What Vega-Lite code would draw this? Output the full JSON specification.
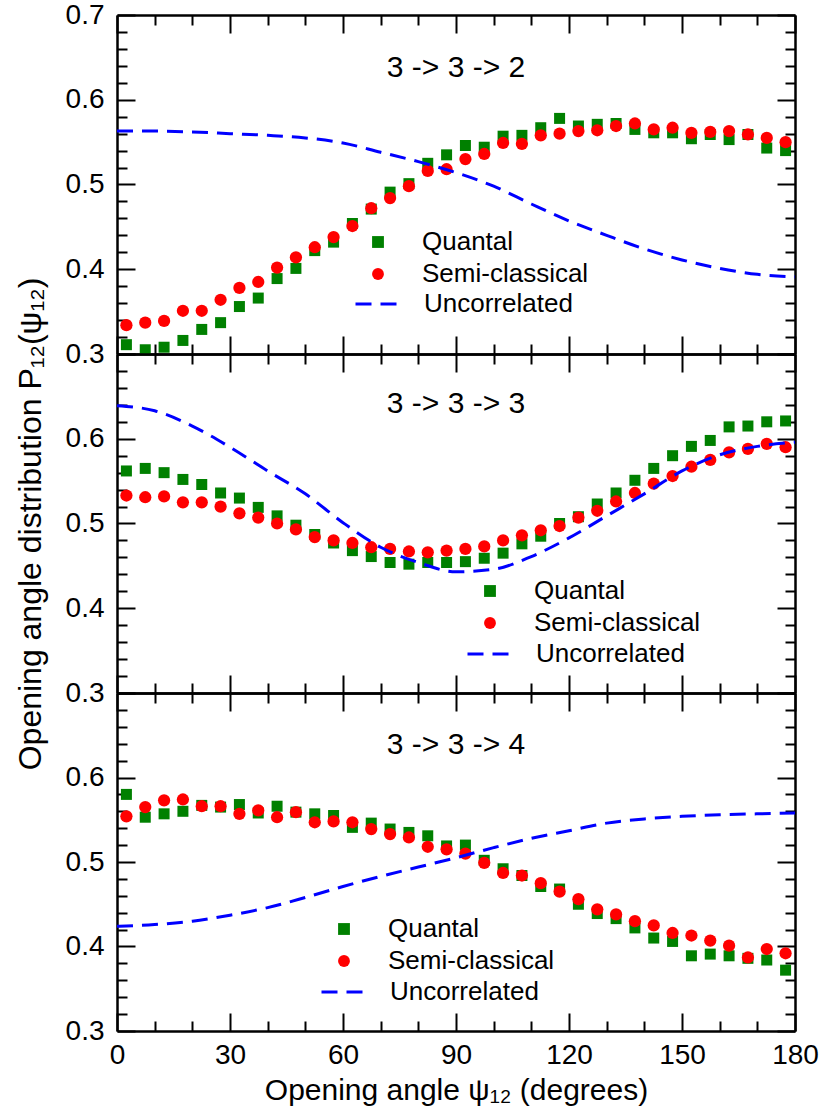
{
  "$schema": "https://vega.github.io/schema/vega-lite/v6.json",
  "padding": {"left": 14, "top": 1, "right": 20, "bottom": 5},
  "spacing": 0,
  "bounds": "flush",
  "config": {
    "font": "Liberation Sans",
    "view": {"stroke": null},
    "axis": {"grid": false, "domainColor": "black", "domainWidth": 2.5, "tickColor": "black", "tickWidth": 2, "labelFont": "Liberation Sans", "labelFontSize": 28, "labelColor": "black", "titleFont": "Liberation Sans", "titleFontSize": 30, "titleFontWeight": "normal", "titleColor": "black", "labelFlush": false, "labelOverlap": false},
    "legend": {"labelFont": "Liberation Sans", "labelFontSize": 26, "labelColor": "black", "padding": 0, "labelLimit": 400},
    "title": {"font": "Liberation Sans", "fontSize": 30, "fontWeight": "normal", "color": "black", "anchor": "middle", "frame": "group"}
  },
  "datasets": {
    "pts": [
      {"panel": "332", "angle": 2.5, "Quantal": 0.311, "Semi-classical": 0.334},
      {"panel": "332", "angle": 7.5, "Quantal": 0.305, "Semi-classical": 0.337},
      {"panel": "332", "angle": 12.5, "Quantal": 0.308, "Semi-classical": 0.339},
      {"panel": "332", "angle": 17.5, "Quantal": 0.316, "Semi-classical": 0.351},
      {"panel": "332", "angle": 22.5, "Quantal": 0.329, "Semi-classical": 0.351},
      {"panel": "332", "angle": 27.5, "Quantal": 0.337, "Semi-classical": 0.364},
      {"panel": "332", "angle": 32.5, "Quantal": 0.356, "Semi-classical": 0.378},
      {"panel": "332", "angle": 37.5, "Quantal": 0.366, "Semi-classical": 0.385},
      {"panel": "332", "angle": 42.5, "Quantal": 0.389, "Semi-classical": 0.402},
      {"panel": "332", "angle": 47.5, "Quantal": 0.401, "Semi-classical": 0.414},
      {"panel": "332", "angle": 52.5, "Quantal": 0.422, "Semi-classical": 0.426},
      {"panel": "332", "angle": 57.5, "Quantal": 0.432, "Semi-classical": 0.438},
      {"panel": "332", "angle": 62.5, "Quantal": 0.454, "Semi-classical": 0.451},
      {"panel": "332", "angle": 67.5, "Quantal": 0.471, "Semi-classical": 0.472},
      {"panel": "332", "angle": 72.5, "Quantal": 0.491, "Semi-classical": 0.484},
      {"panel": "332", "angle": 77.5, "Quantal": 0.501, "Semi-classical": 0.498},
      {"panel": "332", "angle": 82.5, "Quantal": 0.525, "Semi-classical": 0.516},
      {"panel": "332", "angle": 87.5, "Quantal": 0.535, "Semi-classical": 0.518},
      {"panel": "332", "angle": 92.5, "Quantal": 0.546, "Semi-classical": 0.530},
      {"panel": "332", "angle": 97.5, "Quantal": 0.544, "Semi-classical": 0.536},
      {"panel": "332", "angle": 102.5, "Quantal": 0.557, "Semi-classical": 0.549},
      {"panel": "332", "angle": 107.5, "Quantal": 0.558, "Semi-classical": 0.548},
      {"panel": "332", "angle": 112.5, "Quantal": 0.567, "Semi-classical": 0.558},
      {"panel": "332", "angle": 117.5, "Quantal": 0.578, "Semi-classical": 0.560},
      {"panel": "332", "angle": 122.5, "Quantal": 0.569, "Semi-classical": 0.563},
      {"panel": "332", "angle": 127.5, "Quantal": 0.571, "Semi-classical": 0.564},
      {"panel": "332", "angle": 132.5, "Quantal": 0.572, "Semi-classical": 0.569},
      {"panel": "332", "angle": 137.5, "Quantal": 0.565, "Semi-classical": 0.572},
      {"panel": "332", "angle": 142.5, "Quantal": 0.561, "Semi-classical": 0.565},
      {"panel": "332", "angle": 147.5, "Quantal": 0.561, "Semi-classical": 0.567},
      {"panel": "332", "angle": 152.5, "Quantal": 0.554, "Semi-classical": 0.561},
      {"panel": "332", "angle": 157.5, "Quantal": 0.559, "Semi-classical": 0.562},
      {"panel": "332", "angle": 162.5, "Quantal": 0.553, "Semi-classical": 0.563},
      {"panel": "332", "angle": 167.5, "Quantal": 0.559, "Semi-classical": 0.559},
      {"panel": "332", "angle": 172.5, "Quantal": 0.543, "Semi-classical": 0.555},
      {"panel": "332", "angle": 177.5, "Quantal": 0.540, "Semi-classical": 0.550},
      {"panel": "333", "angle": 2.5, "Quantal": 0.562, "Semi-classical": 0.533},
      {"panel": "333", "angle": 7.5, "Quantal": 0.565, "Semi-classical": 0.531},
      {"panel": "333", "angle": 12.5, "Quantal": 0.560, "Semi-classical": 0.532},
      {"panel": "333", "angle": 17.5, "Quantal": 0.552, "Semi-classical": 0.525},
      {"panel": "333", "angle": 22.5, "Quantal": 0.546, "Semi-classical": 0.525},
      {"panel": "333", "angle": 27.5, "Quantal": 0.536, "Semi-classical": 0.520},
      {"panel": "333", "angle": 32.5, "Quantal": 0.530, "Semi-classical": 0.512},
      {"panel": "333", "angle": 37.5, "Quantal": 0.519, "Semi-classical": 0.507},
      {"panel": "333", "angle": 42.5, "Quantal": 0.509, "Semi-classical": 0.500},
      {"panel": "333", "angle": 47.5, "Quantal": 0.498, "Semi-classical": 0.493},
      {"panel": "333", "angle": 52.5, "Quantal": 0.487, "Semi-classical": 0.484},
      {"panel": "333", "angle": 57.5, "Quantal": 0.477, "Semi-classical": 0.480},
      {"panel": "333", "angle": 62.5, "Quantal": 0.468, "Semi-classical": 0.477},
      {"panel": "333", "angle": 67.5, "Quantal": 0.461, "Semi-classical": 0.472},
      {"panel": "333", "angle": 72.5, "Quantal": 0.454, "Semi-classical": 0.470},
      {"panel": "333", "angle": 77.5, "Quantal": 0.452, "Semi-classical": 0.467},
      {"panel": "333", "angle": 82.5, "Quantal": 0.454, "Semi-classical": 0.466},
      {"panel": "333", "angle": 87.5, "Quantal": 0.454, "Semi-classical": 0.468},
      {"panel": "333", "angle": 92.5, "Quantal": 0.455, "Semi-classical": 0.470},
      {"panel": "333", "angle": 97.5, "Quantal": 0.459, "Semi-classical": 0.473},
      {"panel": "333", "angle": 102.5, "Quantal": 0.465, "Semi-classical": 0.480},
      {"panel": "333", "angle": 107.5, "Quantal": 0.476, "Semi-classical": 0.486},
      {"panel": "333", "angle": 112.5, "Quantal": 0.485, "Semi-classical": 0.492},
      {"panel": "333", "angle": 117.5, "Quantal": 0.500, "Semi-classical": 0.497},
      {"panel": "333", "angle": 122.5, "Quantal": 0.508, "Semi-classical": 0.507},
      {"panel": "333", "angle": 127.5, "Quantal": 0.523, "Semi-classical": 0.515},
      {"panel": "333", "angle": 132.5, "Quantal": 0.536, "Semi-classical": 0.526},
      {"panel": "333", "angle": 137.5, "Quantal": 0.551, "Semi-classical": 0.536},
      {"panel": "333", "angle": 142.5, "Quantal": 0.565, "Semi-classical": 0.547},
      {"panel": "333", "angle": 147.5, "Quantal": 0.580, "Semi-classical": 0.556},
      {"panel": "333", "angle": 152.5, "Quantal": 0.591, "Semi-classical": 0.567},
      {"panel": "333", "angle": 157.5, "Quantal": 0.598, "Semi-classical": 0.575},
      {"panel": "333", "angle": 162.5, "Quantal": 0.614, "Semi-classical": 0.584},
      {"panel": "333", "angle": 167.5, "Quantal": 0.615, "Semi-classical": 0.588},
      {"panel": "333", "angle": 172.5, "Quantal": 0.620, "Semi-classical": 0.594},
      {"panel": "333", "angle": 177.5, "Quantal": 0.621, "Semi-classical": 0.590},
      {"panel": "334", "angle": 2.5, "Quantal": 0.580, "Semi-classical": 0.554},
      {"panel": "334", "angle": 7.5, "Quantal": 0.553, "Semi-classical": 0.565},
      {"panel": "334", "angle": 12.5, "Quantal": 0.557, "Semi-classical": 0.573},
      {"panel": "334", "angle": 17.5, "Quantal": 0.560, "Semi-classical": 0.574},
      {"panel": "334", "angle": 22.5, "Quantal": 0.567, "Semi-classical": 0.566},
      {"panel": "334", "angle": 27.5, "Quantal": 0.565, "Semi-classical": 0.566},
      {"panel": "334", "angle": 32.5, "Quantal": 0.568, "Semi-classical": 0.557},
      {"panel": "334", "angle": 37.5, "Quantal": 0.558, "Semi-classical": 0.561},
      {"panel": "334", "angle": 42.5, "Quantal": 0.566, "Semi-classical": 0.553},
      {"panel": "334", "angle": 47.5, "Quantal": 0.559, "Semi-classical": 0.559},
      {"panel": "334", "angle": 52.5, "Quantal": 0.557, "Semi-classical": 0.547},
      {"panel": "334", "angle": 57.5, "Quantal": 0.555, "Semi-classical": 0.548},
      {"panel": "334", "angle": 62.5, "Quantal": 0.541, "Semi-classical": 0.547},
      {"panel": "334", "angle": 67.5, "Quantal": 0.546, "Semi-classical": 0.539},
      {"panel": "334", "angle": 72.5, "Quantal": 0.539, "Semi-classical": 0.533},
      {"panel": "334", "angle": 77.5, "Quantal": 0.535, "Semi-classical": 0.529},
      {"panel": "334", "angle": 82.5, "Quantal": 0.531, "Semi-classical": 0.518},
      {"panel": "334", "angle": 87.5, "Quantal": 0.519, "Semi-classical": 0.515},
      {"panel": "334", "angle": 92.5, "Quantal": 0.520, "Semi-classical": 0.510},
      {"panel": "334", "angle": 97.5, "Quantal": 0.502, "Semi-classical": 0.499},
      {"panel": "334", "angle": 102.5, "Quantal": 0.492, "Semi-classical": 0.487},
      {"panel": "334", "angle": 107.5, "Quantal": 0.484, "Semi-classical": 0.484},
      {"panel": "334", "angle": 112.5, "Quantal": 0.471, "Semi-classical": 0.475},
      {"panel": "334", "angle": 117.5, "Quantal": 0.468, "Semi-classical": 0.465},
      {"panel": "334", "angle": 122.5, "Quantal": 0.450, "Semi-classical": 0.456},
      {"panel": "334", "angle": 127.5, "Quantal": 0.439, "Semi-classical": 0.444},
      {"panel": "334", "angle": 132.5, "Quantal": 0.433, "Semi-classical": 0.438},
      {"panel": "334", "angle": 137.5, "Quantal": 0.422, "Semi-classical": 0.430},
      {"panel": "334", "angle": 142.5, "Quantal": 0.410, "Semi-classical": 0.425},
      {"panel": "334", "angle": 147.5, "Quantal": 0.406, "Semi-classical": 0.416},
      {"panel": "334", "angle": 152.5, "Quantal": 0.389, "Semi-classical": 0.413},
      {"panel": "334", "angle": 157.5, "Quantal": 0.391, "Semi-classical": 0.407},
      {"panel": "334", "angle": 162.5, "Quantal": 0.389, "Semi-classical": 0.401},
      {"panel": "334", "angle": 167.5, "Quantal": 0.386, "Semi-classical": 0.387},
      {"panel": "334", "angle": 172.5, "Quantal": 0.384, "Semi-classical": 0.397},
      {"panel": "334", "angle": 177.5, "Quantal": 0.372, "Semi-classical": 0.392}
    ],
    "unc": [
      {"panel": "332", "angle": 0, "Uncorrelated": 0.563},
      {"panel": "332", "angle": 10, "Uncorrelated": 0.563},
      {"panel": "332", "angle": 20, "Uncorrelated": 0.562},
      {"panel": "332", "angle": 30, "Uncorrelated": 0.560},
      {"panel": "332", "angle": 40, "Uncorrelated": 0.558},
      {"panel": "332", "angle": 50, "Uncorrelated": 0.555},
      {"panel": "332", "angle": 60, "Uncorrelated": 0.549},
      {"panel": "332", "angle": 70, "Uncorrelated": 0.538},
      {"panel": "332", "angle": 80, "Uncorrelated": 0.527},
      {"panel": "332", "angle": 90, "Uncorrelated": 0.514},
      {"panel": "332", "angle": 100, "Uncorrelated": 0.498},
      {"panel": "332", "angle": 110, "Uncorrelated": 0.477},
      {"panel": "332", "angle": 120, "Uncorrelated": 0.457},
      {"panel": "332", "angle": 130, "Uncorrelated": 0.440},
      {"panel": "332", "angle": 140, "Uncorrelated": 0.424},
      {"panel": "332", "angle": 150, "Uncorrelated": 0.411},
      {"panel": "332", "angle": 160, "Uncorrelated": 0.401},
      {"panel": "332", "angle": 170, "Uncorrelated": 0.394},
      {"panel": "332", "angle": 180, "Uncorrelated": 0.391},
      {"panel": "333", "angle": 0, "Uncorrelated": 0.639},
      {"panel": "333", "angle": 10, "Uncorrelated": 0.633},
      {"panel": "333", "angle": 20, "Uncorrelated": 0.615},
      {"panel": "333", "angle": 30, "Uncorrelated": 0.590},
      {"panel": "333", "angle": 40, "Uncorrelated": 0.562},
      {"panel": "333", "angle": 50, "Uncorrelated": 0.535},
      {"panel": "333", "angle": 60, "Uncorrelated": 0.501},
      {"panel": "333", "angle": 70, "Uncorrelated": 0.472},
      {"panel": "333", "angle": 80, "Uncorrelated": 0.454},
      {"panel": "333", "angle": 90, "Uncorrelated": 0.443},
      {"panel": "333", "angle": 100, "Uncorrelated": 0.446},
      {"panel": "333", "angle": 110, "Uncorrelated": 0.461},
      {"panel": "333", "angle": 120, "Uncorrelated": 0.483},
      {"panel": "333", "angle": 130, "Uncorrelated": 0.509},
      {"panel": "333", "angle": 140, "Uncorrelated": 0.535},
      {"panel": "333", "angle": 150, "Uncorrelated": 0.562},
      {"panel": "333", "angle": 160, "Uncorrelated": 0.581},
      {"panel": "333", "angle": 170, "Uncorrelated": 0.591},
      {"panel": "333", "angle": 180, "Uncorrelated": 0.596},
      {"panel": "334", "angle": 0, "Uncorrelated": 0.424},
      {"panel": "334", "angle": 10, "Uncorrelated": 0.426},
      {"panel": "334", "angle": 20, "Uncorrelated": 0.430},
      {"panel": "334", "angle": 30, "Uncorrelated": 0.437},
      {"panel": "334", "angle": 40, "Uncorrelated": 0.446},
      {"panel": "334", "angle": 50, "Uncorrelated": 0.458},
      {"panel": "334", "angle": 60, "Uncorrelated": 0.471},
      {"panel": "334", "angle": 70, "Uncorrelated": 0.483},
      {"panel": "334", "angle": 80, "Uncorrelated": 0.494},
      {"panel": "334", "angle": 90, "Uncorrelated": 0.505},
      {"panel": "334", "angle": 100, "Uncorrelated": 0.517},
      {"panel": "334", "angle": 110, "Uncorrelated": 0.528},
      {"panel": "334", "angle": 120, "Uncorrelated": 0.537},
      {"panel": "334", "angle": 130, "Uncorrelated": 0.546},
      {"panel": "334", "angle": 140, "Uncorrelated": 0.551},
      {"panel": "334", "angle": 150, "Uncorrelated": 0.554},
      {"panel": "334", "angle": 160, "Uncorrelated": 0.556},
      {"panel": "334", "angle": 170, "Uncorrelated": 0.557},
      {"panel": "334", "angle": 180, "Uncorrelated": 0.558}
    ]
  },
  "vconcat": [
    {
      "width": 678, "height": 339,
      "title": {"text": "3 -> 3 -> 2", "offset": -82},
      "layer": [
        {
          "data": {"name": "pts"},
          "transform": [{"filter": "datum.panel === '332'"}, {"fold": ["Quantal", "Semi-classical"], "as": ["series", "p"]}, {"filter": "datum.series === 'Quantal'"}],
          "mark": {"type": "point", "filled": true, "opacity": 1, "size": 121},
          "encoding": {
            "x": {"field": "angle", "type": "quantitative", "scale": {"domain": [0, 180], "nice": false, "zero": false},
              "axis": {"orient": "bottom", "values": [0,10,20,30,40,50,60,70,80,90,100,110,120,130,140,150,160,170,180], "tickSize": {"condition": {"test": "datum.value % 30 === 0", "value": -18}, "value": -10}, "labels": false, "title": null}},
            "y": {"field": "p", "type": "quantitative", "scale": {"domain": [0.3, 0.7], "nice": false, "zero": false},
              "axis": {"orient": "left", "values": [0.3,0.32,0.34,0.36,0.38,0.4,0.42,0.44,0.46,0.48,0.5,0.52,0.54,0.56,0.58,0.6,0.62,0.64,0.66,0.68,0.7], "tickSize": {"condition": {"test": "abs(datum.value*10 - round(datum.value*10)) < 0.001", "value": -18}, "value": -10}, "labelExpr": "abs(datum.value*10 - round(datum.value*10)) < 0.001 ? format(datum.value, '.1f') : ''", "labelPadding": 31, "title": null}},
            "color": {"field": "series", "type": "nominal", "scale": {"domain": ["Quantal", "Semi-classical"], "range": ["#008000", "#ff0000"]},
              "legend": {"orient": "none", "legendX": 248, "legendY": 214, "title": null, "symbolSize": 140, "symbolStrokeWidth": 0, "labelOffset": 31, "rowPadding": 6}},
            "shape": {"field": "series", "type": "nominal", "scale": {"domain": ["Quantal", "Semi-classical"], "range": ["square", "circle"]},
              "legend": {"orient": "none", "legendX": 248, "legendY": 214, "title": null, "symbolSize": 140, "symbolStrokeWidth": 0, "labelOffset": 31, "rowPadding": 6}}
          }
        },
        {
          "data": {"name": "pts"},
          "transform": [{"filter": "datum.panel === '332'"}, {"fold": ["Quantal", "Semi-classical"], "as": ["series", "p"]}, {"filter": "datum.series === 'Semi-classical'"}],
          "mark": {"type": "point", "filled": true, "opacity": 1, "size": 150},
          "encoding": {
            "x": {"field": "angle", "type": "quantitative",
              "axis": {"orient": "top", "values": [0,10,20,30,40,50,60,70,80,90,100,110,120,130,140,150,160,170,180], "tickSize": {"condition": {"test": "datum.value % 30 === 0", "value": -18}, "value": -10}, "labels": false, "title": null}},
            "y": {"field": "p", "type": "quantitative",
              "axis": {"orient": "right", "values": [0.3,0.32,0.34,0.36,0.38,0.4,0.42,0.44,0.46,0.48,0.5,0.52,0.54,0.56,0.58,0.6,0.62,0.64,0.66,0.68,0.7], "tickSize": {"condition": {"test": "abs(datum.value*10 - round(datum.value*10)) < 0.001", "value": -18}, "value": -10}, "labels": false, "title": null}},
            "color": {"field": "series", "type": "nominal"},
            "shape": {"field": "series", "type": "nominal"}
          }
        },
        {
          "data": {"name": "unc"},
          "transform": [{"filter": "datum.panel === '332'"}, {"fold": ["Uncorrelated"], "as": ["series", "p"]}],
          "mark": {"type": "line", "color": "#0000ff", "strokeWidth": 3, "interpolate": "monotone"},
          "encoding": {
            "x": {"field": "angle", "type": "quantitative", "axis": null},
            "y": {"field": "p", "type": "quantitative", "axis": null},
            "strokeDash": {"field": "series", "type": "nominal", "scale": {"domain": ["Uncorrelated"], "range": [[16, 9]]},
              "legend": {"orient": "none", "legendX": 237, "legendY": 267, "title": null, "symbolType": "stroke", "symbolStrokeColor": "#0000ff", "symbolStrokeWidth": 3, "symbolSize": 1681, "labelOffset": 26}}
          }
        }
      ],
      "resolve": {"axis": {"x": "independent", "y": "independent"}}
    },
    {
      "width": 678, "height": 339,
      "title": {"text": "3 -> 3 -> 3", "offset": -142},
      "layer": [
        {
          "data": {"name": "pts"},
          "transform": [{"filter": "datum.panel === '333'"}, {"fold": ["Quantal", "Semi-classical"], "as": ["series", "p"]}, {"filter": "datum.series === 'Quantal'"}],
          "mark": {"type": "point", "filled": true, "opacity": 1, "size": 121},
          "encoding": {
            "x": {"field": "angle", "type": "quantitative", "scale": {"domain": [0, 180], "nice": false, "zero": false},
              "axis": {"orient": "bottom", "values": [0,10,20,30,40,50,60,70,80,90,100,110,120,130,140,150,160,170,180], "tickSize": {"condition": {"test": "datum.value % 30 === 0", "value": -18}, "value": -10}, "labels": false, "title": null}},
            "y": {"field": "p", "type": "quantitative", "scale": {"domain": [0.3, 0.7], "nice": false, "zero": false},
              "axis": {"orient": "left", "values": [0.3,0.32,0.34,0.36,0.38,0.4,0.42,0.44,0.46,0.48,0.5,0.52,0.54,0.56,0.58,0.6,0.62,0.64,0.66,0.68,0.7], "tickSize": {"condition": {"test": "abs(datum.value*10 - round(datum.value*10)) < 0.001", "value": -18}, "value": -10}, "labelExpr": "abs(datum.value*10 - round(datum.value*10)) < 0.001 && datum.value < 0.65 ? format(datum.value, '.1f') : ''", "labelPadding": 31, "title": "Opening angle distribution P₁₂(ψ₁₂)", "titleFontSize": 32, "titlePadding": 18}},
            "color": {"field": "series", "type": "nominal", "scale": {"domain": ["Quantal", "Semi-classical"], "range": ["#008000", "#ff0000"]},
              "legend": {"orient": "none", "legendX": 360, "legendY": 224, "title": null, "symbolSize": 140, "symbolStrokeWidth": 0, "labelOffset": 31, "rowPadding": 6}},
            "shape": {"field": "series", "type": "nominal", "scale": {"domain": ["Quantal", "Semi-classical"], "range": ["square", "circle"]},
              "legend": {"orient": "none", "legendX": 360, "legendY": 224, "title": null, "symbolSize": 140, "symbolStrokeWidth": 0, "labelOffset": 31, "rowPadding": 6}}
          }
        },
        {
          "data": {"name": "pts"},
          "transform": [{"filter": "datum.panel === '333'"}, {"fold": ["Quantal", "Semi-classical"], "as": ["series", "p"]}, {"filter": "datum.series === 'Semi-classical'"}],
          "mark": {"type": "point", "filled": true, "opacity": 1, "size": 150},
          "encoding": {
            "x": {"field": "angle", "type": "quantitative",
              "axis": {"orient": "top", "values": [0,10,20,30,40,50,60,70,80,90,100,110,120,130,140,150,160,170,180], "tickSize": {"condition": {"test": "datum.value % 30 === 0", "value": -18}, "value": -10}, "labels": false, "title": null}},
            "y": {"field": "p", "type": "quantitative",
              "axis": {"orient": "right", "values": [0.3,0.32,0.34,0.36,0.38,0.4,0.42,0.44,0.46,0.48,0.5,0.52,0.54,0.56,0.58,0.6,0.62,0.64,0.66,0.68,0.7], "tickSize": {"condition": {"test": "abs(datum.value*10 - round(datum.value*10)) < 0.001", "value": -18}, "value": -10}, "labels": false, "title": null}},
            "color": {"field": "series", "type": "nominal"},
            "shape": {"field": "series", "type": "nominal"}
          }
        },
        {
          "data": {"name": "unc"},
          "transform": [{"filter": "datum.panel === '333'"}, {"fold": ["Uncorrelated"], "as": ["series", "p"]}],
          "mark": {"type": "line", "color": "#0000ff", "strokeWidth": 3, "interpolate": "monotone"},
          "encoding": {
            "x": {"field": "angle", "type": "quantitative", "axis": null},
            "y": {"field": "p", "type": "quantitative", "axis": null},
            "strokeDash": {"field": "series", "type": "nominal", "scale": {"domain": ["Uncorrelated"], "range": [[16, 9]]},
              "legend": {"orient": "none", "legendX": 349, "legendY": 278, "title": null, "symbolType": "stroke", "symbolStrokeColor": "#0000ff", "symbolStrokeWidth": 3, "symbolSize": 1681, "labelOffset": 26}}
          }
        }
      ],
      "resolve": {"axis": {"x": "independent", "y": "independent"}}
    },
    {
      "width": 678, "height": 338,
      "title": {"text": "3 -> 3 -> 4", "offset": -81},
      "layer": [
        {
          "data": {"name": "pts"},
          "transform": [{"filter": "datum.panel === '334'"}, {"fold": ["Quantal", "Semi-classical"], "as": ["series", "p"]}, {"filter": "datum.series === 'Quantal'"}],
          "mark": {"type": "point", "filled": true, "opacity": 1, "size": 121},
          "encoding": {
            "x": {"field": "angle", "type": "quantitative", "scale": {"domain": [0, 180], "nice": false, "zero": false},
              "axis": {"orient": "bottom", "values": [0,10,20,30,40,50,60,70,80,90,100,110,120,130,140,150,160,170,180], "tickSize": {"condition": {"test": "datum.value % 30 === 0", "value": -18}, "value": -10}, "labelExpr": "datum.value % 30 === 0 ? datum.label : ''", "labelPadding": 28, "title": "Opening angle ψ₁₂ (degrees)", "titlePadding": -2}},
            "y": {"field": "p", "type": "quantitative", "scale": {"domain": [0.3, 0.7], "nice": false, "zero": false},
              "axis": {"orient": "left", "values": [0.3,0.32,0.34,0.36,0.38,0.4,0.42,0.44,0.46,0.48,0.5,0.52,0.54,0.56,0.58,0.6,0.62,0.64,0.66,0.68,0.7], "tickSize": {"condition": {"test": "abs(datum.value*10 - round(datum.value*10)) < 0.001", "value": -18}, "value": -10}, "labelExpr": "abs(datum.value*10 - round(datum.value*10)) < 0.001 && datum.value < 0.65 ? format(datum.value, '.1f') : ''", "labelPadding": 31, "title": null}},
            "color": {"field": "series", "type": "nominal", "scale": {"domain": ["Quantal", "Semi-classical"], "range": ["#008000", "#ff0000"]},
              "legend": {"orient": "none", "legendX": 214, "legendY": 223, "title": null, "symbolSize": 140, "symbolStrokeWidth": 0, "labelOffset": 31, "rowPadding": 6}},
            "shape": {"field": "series", "type": "nominal", "scale": {"domain": ["Quantal", "Semi-classical"], "range": ["square", "circle"]},
              "legend": {"orient": "none", "legendX": 214, "legendY": 223, "title": null, "symbolSize": 140, "symbolStrokeWidth": 0, "labelOffset": 31, "rowPadding": 6}}
          }
        },
        {
          "data": {"name": "pts"},
          "transform": [{"filter": "datum.panel === '334'"}, {"fold": ["Quantal", "Semi-classical"], "as": ["series", "p"]}, {"filter": "datum.series === 'Semi-classical'"}],
          "mark": {"type": "point", "filled": true, "opacity": 1, "size": 150},
          "encoding": {
            "x": {"field": "angle", "type": "quantitative",
              "axis": {"orient": "top", "values": [0,10,20,30,40,50,60,70,80,90,100,110,120,130,140,150,160,170,180], "tickSize": {"condition": {"test": "datum.value % 30 === 0", "value": -18}, "value": -10}, "labels": false, "title": null}},
            "y": {"field": "p", "type": "quantitative",
              "axis": {"orient": "right", "values": [0.3,0.32,0.34,0.36,0.38,0.4,0.42,0.44,0.46,0.48,0.5,0.52,0.54,0.56,0.58,0.6,0.62,0.64,0.66,0.68,0.7], "tickSize": {"condition": {"test": "abs(datum.value*10 - round(datum.value*10)) < 0.001", "value": -18}, "value": -10}, "labels": false, "title": null}},
            "color": {"field": "series", "type": "nominal"},
            "shape": {"field": "series", "type": "nominal"}
          }
        },
        {
          "data": {"name": "unc"},
          "transform": [{"filter": "datum.panel === '334'"}, {"fold": ["Uncorrelated"], "as": ["series", "p"]}],
          "mark": {"type": "line", "color": "#0000ff", "strokeWidth": 3, "interpolate": "monotone"},
          "encoding": {
            "x": {"field": "angle", "type": "quantitative", "axis": null},
            "y": {"field": "p", "type": "quantitative", "axis": null},
            "strokeDash": {"field": "series", "type": "nominal", "scale": {"domain": ["Uncorrelated"], "range": [[16, 9]]},
              "legend": {"orient": "none", "legendX": 203, "legendY": 277, "title": null, "symbolType": "stroke", "symbolStrokeColor": "#0000ff", "symbolStrokeWidth": 3, "symbolSize": 1681, "labelOffset": 26}}
          }
        }
      ],
      "resolve": {"axis": {"x": "independent", "y": "independent"}}
    }
  ],
  "resolve": {
    "scale": {"color": "independent", "shape": "independent", "strokeDash": "independent"},
    "legend": {"color": "independent", "shape": "independent", "strokeDash": "independent"}
  }
}
